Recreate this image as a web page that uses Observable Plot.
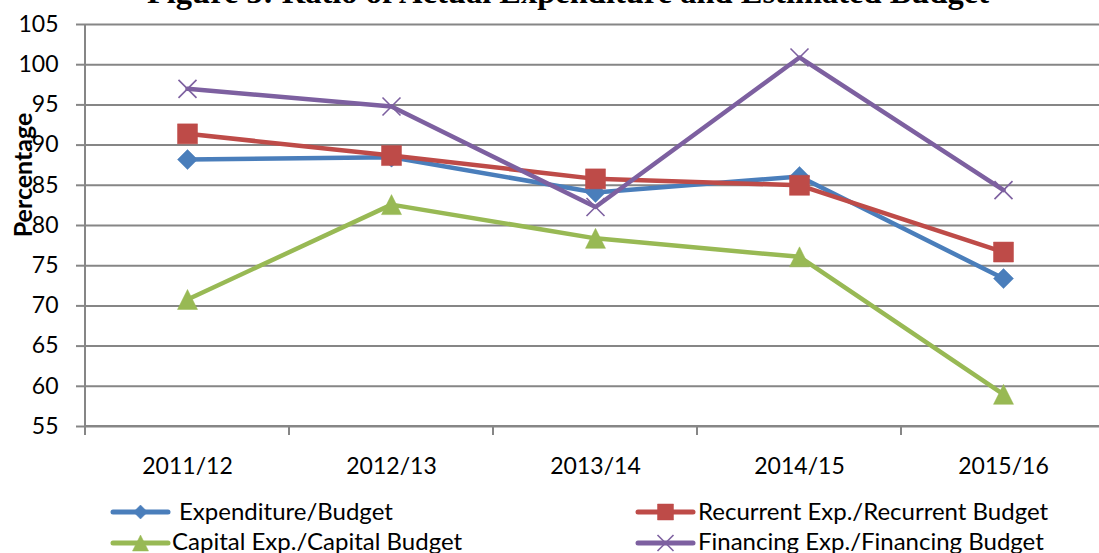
<!DOCTYPE html>
<html>
<head>
<meta charset="utf-8">
<script src="https://cdn.jsdelivr.net/npm/d3@7"></script>
<script src="https://cdn.jsdelivr.net/npm/@observablehq/plot@0.6"></script>
<style>
  html, body { margin: 0; padding: 0; background: #fff; }
  body { width: 1099px; height: 553px; overflow: hidden; position: relative; font-family: Lato, sans-serif; }
  #chart { position: absolute; left: 0; top: 0; }
  #title { position: absolute; left: 0; top: 0; width: 1099px; height: 20px; }
  #ylabel { position: absolute; left: 22px; top: 175px; transform: translate(-50%, -50%) rotate(-90deg);
            font: bold 25px Lato, sans-serif; white-space: nowrap; color: #000; }
  #legend { position: absolute; left: 0; top: 490px; }
</style>
</head>
<body>
<div id="chart"></div>
<div id="title"></div>
<div id="ylabel">Percentage</div>
<div id="legend"></div>
<script>
// ---- data ----
const titleText = "Figure 3: Ratio of Actual Expenditure and Estimated Budget";
const categories = ["2011/12", "2012/13", "2013/14", "2014/15", "2015/16"];
const seriesNames = ["Expenditure/Budget", "Recurrent Exp./Recurrent Budget", "Capital Exp./Capital Budget", "Financing Exp./Financing Budget"];
const expenditureBudget = [88.2, 88.5, 84.1, 86.1, 73.4];
const recurrentBudget   = [91.4, 88.7, 85.8, 85.0, 76.7];
const capitalBudget     = [70.8, 82.6, 78.4, 76.1, 59.0];
const financingBudget   = [97.0, 94.8, 82.3, 100.9, 84.4];
const yTicks = [55, 60, 65, 70, 75, 80, 85, 90, 95, 100, 105];

// ---- symbols (bbox-centred, like Excel markers) ----
const rad = size => Math.sqrt(size / Math.PI);
const symDiamond = {draw(c, s) { const r = rad(s); c.moveTo(0, -r); c.lineTo(r, 0); c.lineTo(0, r); c.lineTo(-r, 0); c.closePath(); }};
const symSquare = {draw(c, s) { const r = rad(s); c.rect(-r, -r, 2 * r, 2 * r); }};
const symTriangle = {draw(c, s) { const r = rad(s); c.moveTo(0, -r); c.lineTo(r, r); c.lineTo(-r, r); c.closePath(); }};
const symTimes = {draw(c, s) { const r = rad(s); c.moveTo(-r, -r); c.lineTo(r, r); c.moveTo(r, -r); c.lineTo(-r, r); }};

const series = [
  {name: seriesNames[0], values: expenditureBudget, color: "#4A7EBB", symbol: symDiamond, r: 10, filled: true, lr: 7},
  {name: seriesNames[1], values: recurrentBudget,   color: "#BE4B48", symbol: symSquare,  r: 10, filled: true, lr: 8},
  {name: seriesNames[2], values: capitalBudget,     color: "#98B954", symbol: symTriangle, r: 10, filled: true, lr: 8},
  {name: seriesNames[3], values: financingBudget,   color: "#7D60A0", symbol: symTimes,  r: 9, filled: false, lr: 8}
];

const gridColor = "#868686";

// axis lines and category boundary ticks, from the library's scales
function axisFrame(index, scales) {
  const x = scales.x, y = scales.y;
  const step = x(categories[1]) - x(categories[0]);
  const edges = categories.map(c => x(c) - step / 2).concat([x(categories[categories.length - 1]) + step / 2]);
  const y0 = y(yTicks[0]), yTop = y(yTicks[yTicks.length - 1]);
  const g = d3.create("svg:g").attr("stroke", gridColor).attr("stroke-width", 2).attr("fill", "none");
  g.append("line").attr("x1", edges[0]).attr("x2", 1200).attr("y1", y0).attr("y2", y0);
  g.append("line").attr("x1", edges[0]).attr("x2", edges[0]).attr("y1", yTop).attr("y2", y0 + 9);
  edges.forEach(e => g.append("line").attr("x1", e).attr("x2", e).attr("y1", y0).attr("y2", y0 + 9));
  return g.node();
}

const seriesMarks = series.flatMap(s => {
  const data = categories.map((c, i) => ({c, v: s.values[i]}));
  return [
    Plot.line(data, {x: "c", y: "v", stroke: s.color, strokeWidth: 4.5, strokeLinejoin: "round", strokeLinecap: "round"}),
    Plot.dot(data, {x: "c", y: "v", symbol: s.symbol, r: s.r,
      fill: s.filled ? s.color : "none", stroke: s.color, strokeWidth: s.filled ? 0.5 : 1.6})
  ];
});

const chart = Plot.plot({
  width: 1099,
  height: 490,
  marginTop: 24,
  marginBottom: 64,
  marginLeft: 84,
  marginRight: 0,
  style: {fontFamily: "Lato, sans-serif", fontSize: "23px", color: "#000", background: "#fff", overflow: "visible"},
  x: {type: "point", domain: categories, range: [84, 1106.5], padding: 0.5, label: null},
  y: {domain: [55, 105], label: null},
  marks: [
    Plot.gridY(yTicks, {stroke: gridColor, strokeOpacity: 1, strokeWidth: 2}),
    Plot.axisY(yTicks, {tickSize: 8, tickPadding: 18, stroke: gridColor, strokeWidth: 2, fontSize: 23, label: null, tickFormat: d => String(d)}),
    Plot.axisX({tickSize: 0, tickPadding: 31, fontSize: 23, label: null}),
    axisFrame,
    ...seriesMarks
  ]
});
document.getElementById("chart").appendChild(chart);

// ---- title (mostly above the visible area, as in the reference) ----
const ts = d3.create("svg").attr("width", 1099).attr("height", 20).style("display", "block");
ts.append("text").attr("x", 568).attr("y", 2.5).attr("text-anchor", "middle")
  .attr("font-family", "'Liberation Serif', 'Times New Roman', serif").attr("font-weight", "bold")
  .attr("font-size", 32.5).attr("fill", "#000").text(titleText);
document.getElementById("title").appendChild(ts.node());

// ---- legend ----
const legendPos = [
  {sx: 113, tx: 179, y: 22, ty: 30},
  {sx: 638, tx: 698, y: 22, ty: 30},
  {sx: 113, tx: 172, y: 53, ty: 60},
  {sx: 638, tx: 698, y: 53, ty: 60}
];
const lg = d3.create("svg").attr("width", 1099).attr("height", 63)
  .style("font-family", "Lato, sans-serif").style("font-size", "24px");
series.forEach((s, i) => {
  const p = legendPos[i];
  const g = lg.append("g");
  g.append("line").attr("x1", p.sx).attr("x2", p.sx + 55).attr("y1", p.y).attr("y2", p.y)
    .attr("stroke", s.color).attr("stroke-width", 5).attr("stroke-linecap", "round");
  g.append("path").attr("transform", `translate(${p.sx + 27.5},${p.y})`)
    .attr("d", d3.symbol(s.symbol, Math.PI * s.lr * s.lr)())
    .attr("fill", s.filled ? s.color : "none").attr("stroke", s.color).attr("stroke-width", s.filled ? 0.5 : 1.6);
  g.append("text").attr("x", p.tx).attr("y", p.ty).attr("fill", "#000").text(s.name);
});
document.getElementById("legend").appendChild(lg.node());
</script>
</body>
</html>
